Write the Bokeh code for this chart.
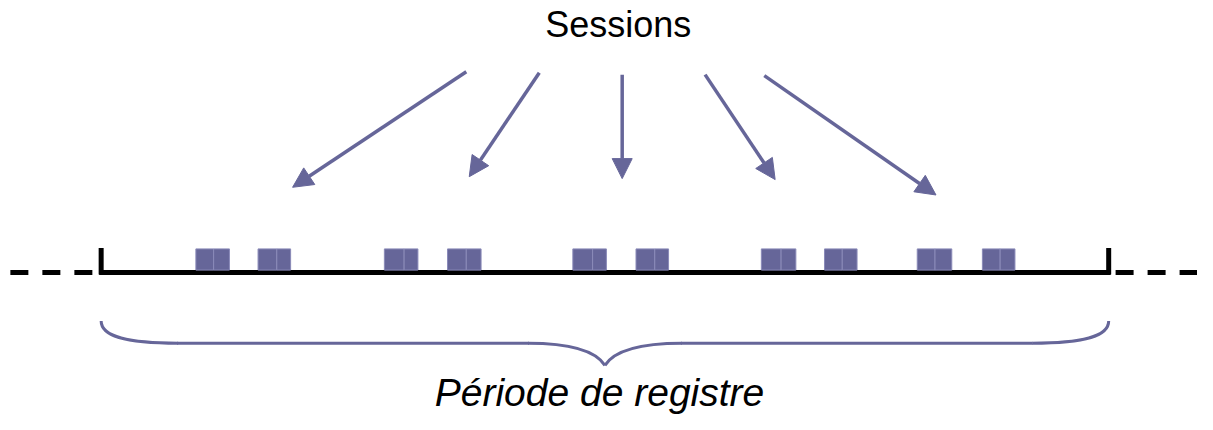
from bokeh.plotting import figure
from bokeh.models import Range1d, Arrow, NormalHead
from bokeh.core.properties import value
from bokeh.embed import file_html
from bokeh.resources import INLINE

# ---- data (pixel-space diagram coordinates of the reference) ----
session_starts = [198, 261, 389, 453, 580, 644, 771, 835, 929, 995]
session_split = [216, 280, 409, 472, 600, 663, 791, 853, 947, 1013]
session_ends = [232, 294, 423, 487, 614, 677, 806, 868, 964, 1028]
session_top = 258
session_bottom = 280

arrow_x0 = [472, 546, 630, 714, 774]
arrow_y0 = [74, 75, 77, 77, 78]
arrow_x1 = [296, 475, 630, 785, 948]
arrow_y1 = [194, 183, 185, 186, 202]

period_start = 102
period_end = 1123
timeline_y = 282.5

title_text = "Sessions"
period_text = "Période de registre"

PURPLE = "#666699"

p = figure(width=1197, height=414, output_backend="svg", toolbar_location=None,
           x_range=Range1d(0, 1213), y_range=Range1d(430, 0),
           x_axis_location=None, y_axis_location=None, min_border=0)
p.grid.visible = False
p.outline_line_color = None
p.background_fill_color = "white"

# dashed continuations
p.segment(x0=[10, 1130], y0=[timeline_y] * 2, x1=[100, 1213], y1=[timeline_y] * 2,
          line_color="black", line_width=5, line_dash="18 14", line_cap="butt")
# timeline
p.segment(x0=[period_start - 2], y0=[timeline_y], x1=[period_end + 2], y1=[timeline_y],
          line_color="black", line_width=5, line_cap="butt")
# end ticks
p.segment(x0=[period_start, period_end], y0=[257, 257],
          x1=[period_start, period_end], y1=[timeline_y + 2, timeline_y + 2],
          line_color="black", line_width=5, line_cap="butt")

# session squares (two adjacent each)
lefts = session_starts + session_split
rights = session_split + session_ends
p.quad(left=lefts, right=rights, top=[session_top] * len(lefts), bottom=[session_bottom] * len(lefts),
       fill_color=PURPLE, line_color="#8a8ab8", line_width=1)

# arrows
for x0, y0, x1, y1 in zip(arrow_x0, arrow_y0, arrow_x1, arrow_y1):
    p.add_layout(Arrow(x_start=x0, y_start=y0, x_end=x1, y_end=y1,
                       line_color=PURPLE, line_width=3.5,
                       end=NormalHead(size=20, fill_color=PURPLE, line_color=PURPLE, line_width=1)))

# curly brace
mid = (period_start + period_end) / 2
tip_y = 379
flat_y = 356
p.bezier(x0=[period_start, mid - 78, mid, mid + 433],
         y0=[333, flat_y, tip_y, flat_y],
         x1=[period_start + 78, mid, mid + 78, period_end],
         y1=[flat_y, tip_y, flat_y, 333],
         cx0=[period_start, mid - 30, mid + 8, period_end - 22],
         cy0=[348, flat_y, 366, flat_y],
         cx1=[period_start + 22, mid - 8, mid + 30, period_end],
         cy1=[flat_y, 366, flat_y, 348],
         line_color=PURPLE, line_width=3)
p.segment(x0=[period_start + 77, mid + 77], y0=[flat_y] * 2,
          x1=[mid - 77, period_end - 77], y1=[flat_y] * 2,
          line_color=PURPLE, line_width=3)

# texts
p.text(x=[626], y=[25], text=[title_text], text_font=value("Liberation Sans"),
       text_font_size="36px", text_align="center", text_baseline="alphabetic", text_color="black")
p.text(x=[607], y=[407], text=[period_text], text_font=value("Liberation Sans"),
       text_font_style="italic", text_font_size="39px", text_align="center",
       text_baseline="alphabetic", text_color="black")

open("out.html", "w").write(file_html(p, INLINE))
